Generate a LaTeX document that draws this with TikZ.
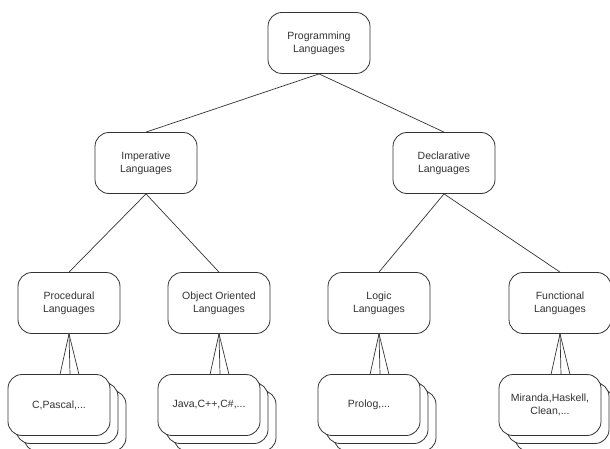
\documentclass[tikz,border=0pt]{standalone}
\usepackage{fontspec}
\setmainfont{Liberation Sans}
\begin{document}
\begin{tikzpicture}[x=1pt,y=-1pt,
  box/.style={draw=black!80, fill=white, rounded corners=14pt, line width=0.8pt,
    minimum width=102pt, minimum height=61pt, align=center, inner sep=2pt,
    font=\fontsize{10.5}{13}\selectfont, text=black!80},
  link/.style={draw=black!80, line width=0.7pt}]
\useasboundingbox (0,0) rectangle (610,449);
\clip (0,0) rectangle (610,449);

% hierarchy boxes
\node[box] (prog)  at (319,43)  {Programming\\Languages};
\node[box] (imp)   at (146,163) {Imperative\\Languages};
\node[box] (decl)  at (444,163) {Declarative\\Languages};
\node[box] (proc)  at (69,303)  {Procedural\\Languages};
\node[box] (oo)    at (219,303) {Object Oriented\\Languages};
\node[box] (logic) at (379,303) {Logic\\Languages};
\node[box] (func)  at (560,303) {Functional\\Languages};

% tree edges
\draw[link] (prog.south) -- (imp.north);
\draw[link] (prog.south) -- (decl.north);
\draw[link] (imp.south) -- (proc.north);
\draw[link] (imp.south) -- (oo.north);
\draw[link] (decl.south) -- (logic.north);
\draw[link] (decl.south) -- (func.north);

% stacked example boxes (back to front), fanned edges from the parent
\foreach \p/\c/\t in {proc/59/{C,Pascal,...},
                      oo/209/{Java,C++,C\#,...},
                      logic/369/{Prolog,...},
                      func/550/{Miranda,Haskell,\\Clean,...}} {
  \node[box] (\p C) at (\c+16,421) {};
  \node[box] (\p B) at (\c+8,413) {};
  \coordinate (\p A1) at (\c+1,374.5);
  \coordinate (\p A2) at (\c+11,374.5);
  \coordinate (\p A3) at (\c+20,374.5);
  \draw[link] (\p.south) -- (\p A1);
  \draw[link] (\p.south) -- (\p A2);
  \draw[link] (\p.south) -- (\p A3);
  \node[box] (\p A) at (\c,405) {\t};
}
\end{tikzpicture}
\end{document}
